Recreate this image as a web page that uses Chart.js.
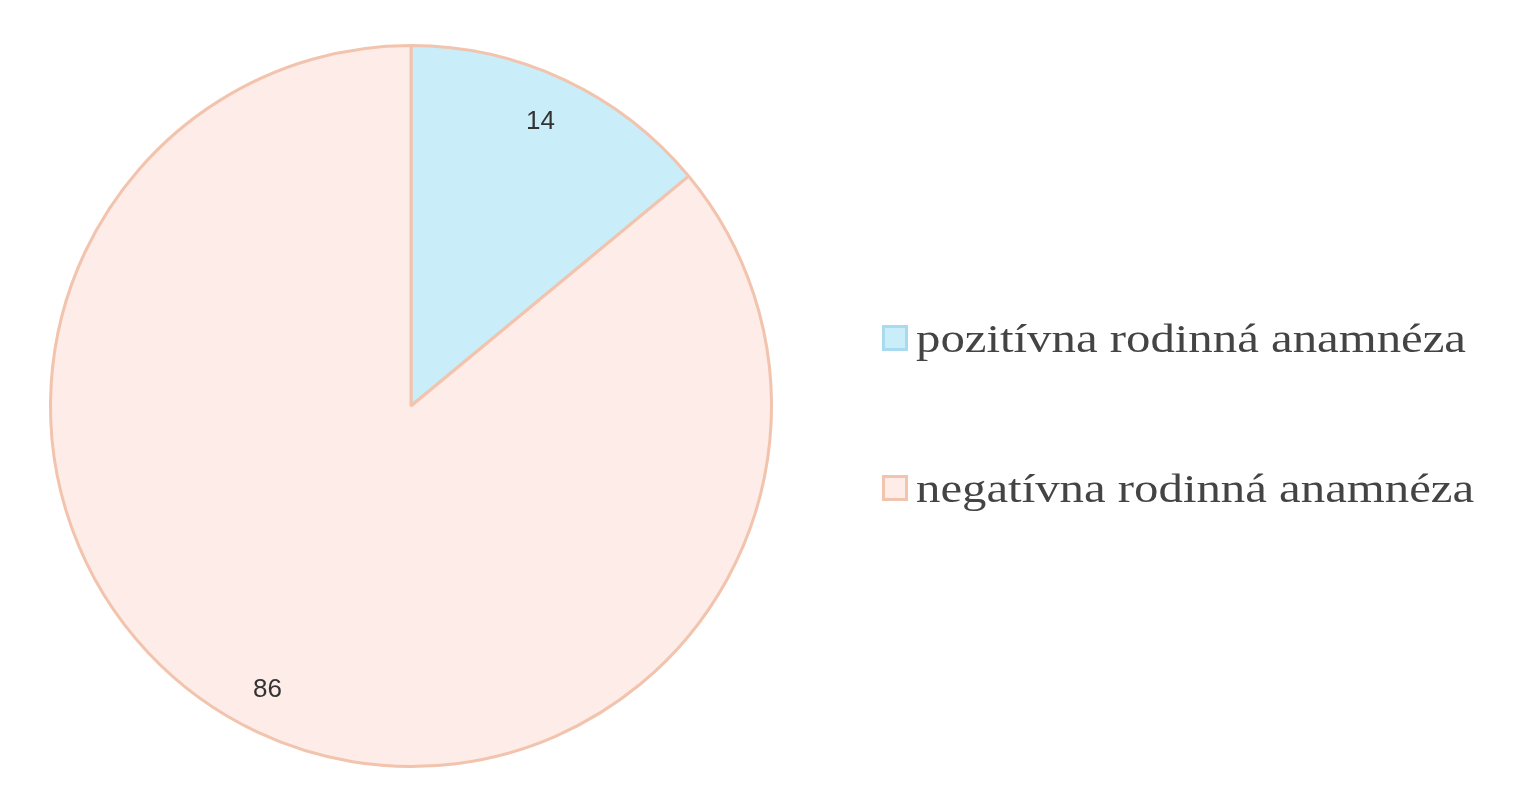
<!DOCTYPE html>
<html><head><meta charset="utf-8">
<script src="https://cdn.jsdelivr.net/npm/chart.js@4/dist/chart.umd.min.js"></script>
<style>
body{margin:0;background:#fff;}
#wrap{position:relative;width:1521px;height:800px;}
.leg{position:absolute;left:882px;font-family:"Liberation Serif",serif;font-size:41px;color:#444;display:flex;align-items:center;}
.box{width:20px;height:20px;margin-right:8px;border:3px solid;}
.txt{display:inline-block;transform:scaleX(1.19);transform-origin:left center;}
</style></head><body>
<div id="wrap"><canvas id="c" width="1521" height="800"></canvas>
<div id="legend"></div></div>
<script>
const labels=["pozitívna rodinná anamnéza","negatívna rodinná anamnéza"];
const values=[14,86];
const fills=["#c9edf9","#fdece7"];
const borders=["#a9dbef","#f2c3ad"];
const lg=document.getElementById('legend');
labels.forEach((l,i)=>{const d=document.createElement('div');d.className='leg';d.style.top=(314+i*150)+'px';
d.innerHTML='<span class="box" style="background:'+fills[i]+';border-color:'+borders[i]+'"></span><span class="txt">'+l+'</span>';lg.appendChild(d);});
const valPlugin={id:'vals',afterDatasetsDraw(ch){const ctx=ch.ctx;ctx.save();ctx.font='26px "Liberation Sans", Arial';ctx.fillStyle='#333';ctx.textAlign='center';ctx.textBaseline='middle';
ch.getDatasetMeta(0).data.forEach((a,i)=>{const m=(a.startAngle+a.endAngle)/2;const r=a.outerRadius*0.87;const dx=i==0?-4:-10;ctx.fillText(String(values[i]),a.x+Math.cos(m)*r+dx,a.y+Math.sin(m)*r);});ctx.restore();}};
new Chart(document.getElementById('c'),{type:'pie',data:{labels,datasets:[{data:values,backgroundColor:fills,borderColor:["#f2c3ad","#f2c3ad"],borderWidth:3}]},
options:{responsive:false,animation:false,layout:{padding:{left:49,right:748,top:44,bottom:32}},plugins:{legend:{display:false},tooltip:{enabled:false}}},plugins:[valPlugin]});
</script></body></html>
